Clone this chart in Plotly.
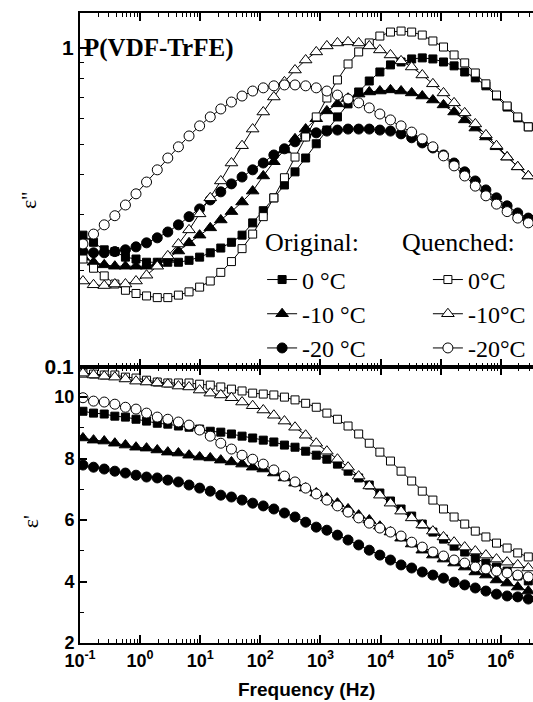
import plotly.graph_objects as go

# Measurement frequencies (Hz)
freq_hz = [0.112, 0.168, 0.253, 0.380, 0.570, 0.855, 1.28, 1.93, 2.89, 4.34,
           6.52, 9.78, 14.7, 22.0, 33.1, 49.7, 74.6, 112, 168, 252,
           378, 568, 853, 1280, 1921, 2884, 4329, 6499, 9754, 14640,
           21980, 32990, 49530, 74340, 111600, 167500, 251500, 377500, 566600, 850500,
           1277000, 1917000, 2877000]

# Dielectric loss eps'' - original samples
loss_orig_0 = [0.259, 0.246, 0.233, 0.230, 0.221, 0.218, 0.213, 0.213, 0.213, 0.213,
               0.216, 0.221, 0.228, 0.236, 0.246, 0.259, 0.283, 0.309, 0.339, 0.372,
               0.409, 0.452, 0.501, 0.553, 0.608, 0.668, 0.728, 0.788, 0.841, 0.885,
               0.904, 0.924, 0.931, 0.924, 0.904, 0.879, 0.841, 0.806, 0.761, 0.707,
               0.653, 0.604, 0.566]
loss_orig_m10 = [0.221, 0.213, 0.209, 0.207, 0.207, 0.207, 0.207, 0.211, 0.219, 0.231,
                 0.245, 0.259, 0.273, 0.289, 0.307, 0.329, 0.356, 0.397, 0.440, 0.479,
                 0.519, 0.557, 0.600, 0.635, 0.668, 0.696, 0.717, 0.728, 0.733, 0.739,
                 0.733, 0.723, 0.707, 0.687, 0.663, 0.630, 0.595, 0.561, 0.526, 0.490,
                 0.455, 0.424, 0.397]
loss_orig_m20 = [0.230, 0.228, 0.228, 0.230, 0.233, 0.238, 0.245, 0.254, 0.265, 0.279,
                 0.296, 0.313, 0.334, 0.354, 0.375, 0.394, 0.415, 0.436, 0.462, 0.483,
                 0.508, 0.530, 0.542, 0.549, 0.553, 0.557, 0.557, 0.557, 0.553, 0.549,
                 0.538, 0.523, 0.504, 0.486, 0.462, 0.436, 0.409, 0.383, 0.359, 0.339,
                 0.320, 0.304, 0.293]

# Dielectric loss eps'' - quenched samples
loss_quen_0 = [0.218, 0.204, 0.193, 0.182, 0.174, 0.170, 0.167, 0.165, 0.165, 0.168,
               0.172, 0.178, 0.186, 0.198, 0.214, 0.235, 0.261, 0.296, 0.339, 0.392,
               0.455, 0.526, 0.608, 0.697, 0.794, 0.891, 0.972, 1.037, 1.090, 1.122,
               1.130, 1.122, 1.098, 1.052, 1.007, 0.951, 0.898, 0.835, 0.772, 0.712,
               0.658, 0.608, 0.566]
loss_quen_m10 = [0.186, 0.181, 0.180, 0.182, 0.182, 0.186, 0.194, 0.207, 0.223, 0.243,
                 0.269, 0.302, 0.339, 0.383, 0.436, 0.494, 0.557, 0.630, 0.702, 0.783,
                 0.853, 0.917, 0.972, 1.015, 1.037, 1.045, 1.037, 1.015, 0.986, 0.951,
                 0.911, 0.872, 0.823, 0.772, 0.723, 0.673, 0.626, 0.578, 0.534, 0.494,
                 0.455, 0.424, 0.397]
loss_quen_m20 = [0.243, 0.261, 0.279, 0.298, 0.322, 0.349, 0.380, 0.415, 0.452, 0.490,
                 0.530, 0.570, 0.608, 0.644, 0.677, 0.707, 0.733, 0.750, 0.761, 0.766,
                 0.766, 0.761, 0.750, 0.733, 0.712, 0.692, 0.673, 0.649, 0.621, 0.595,
                 0.570, 0.545, 0.519, 0.490, 0.459, 0.427, 0.397, 0.369, 0.344, 0.324,
                 0.307, 0.293, 0.283]

# Dielectric constant eps' - original samples
perm_orig_0 = [9.54, 9.48, 9.45, 9.38, 9.35, 9.28, 9.22, 9.15, 9.12, 9.06,
               9.02, 8.96, 8.89, 8.86, 8.80, 8.73, 8.67, 8.60, 8.54, 8.44,
               8.37, 8.24, 8.11, 7.98, 7.82, 7.59, 7.37, 7.14, 6.88, 6.62,
               6.36, 6.13, 5.87, 5.61, 5.38, 5.15, 4.96, 4.76, 4.60, 4.47,
               4.34, 4.18, 4.02]
perm_orig_m10 = [8.67, 8.60, 8.57, 8.50, 8.44, 8.37, 8.34, 8.28, 8.21, 8.18,
                 8.11, 8.05, 8.02, 7.95, 7.89, 7.82, 7.72, 7.66, 7.53, 7.37,
                 7.20, 7.04, 6.88, 6.72, 6.55, 6.36, 6.16, 6.00, 5.80, 5.61,
                 5.41, 5.22, 5.02, 4.86, 4.73, 4.60, 4.47, 4.31, 4.21, 4.05,
                 3.95, 3.82, 3.69]
perm_orig_m20 = [7.79, 7.72, 7.66, 7.59, 7.53, 7.46, 7.40, 7.37, 7.30, 7.24,
                 7.14, 7.04, 6.94, 6.81, 6.75, 6.65, 6.55, 6.46, 6.36, 6.23,
                 6.10, 5.93, 5.77, 5.67, 5.51, 5.35, 5.19, 5.02, 4.86, 4.70,
                 4.54, 4.44, 4.31, 4.21, 4.11, 3.98, 3.89, 3.79, 3.69, 3.59,
                 3.53, 3.50, 3.43]

# Dielectric constant eps' - quenched samples
perm_quen_0 = [10.78, 10.75, 10.72, 10.72, 10.65, 10.62, 10.55, 10.49, 10.46, 10.46,
               10.46, 10.42, 10.39, 10.33, 10.26, 10.20, 10.13, 10.10, 10.07, 10.00,
               9.91, 9.80, 9.67, 9.48, 9.28, 9.06, 8.80, 8.50, 8.21, 7.92,
               7.59, 7.27, 6.94, 6.65, 6.36, 6.10, 5.87, 5.64, 5.45, 5.25,
               5.09, 4.93, 4.80]
perm_quen_m10 = [10.78, 10.72, 10.68, 10.65, 10.59, 10.52, 10.49, 10.46, 10.42, 10.36,
                 10.33, 10.23, 10.13, 10.07, 9.98, 9.84, 9.72, 9.58, 9.41, 9.22,
                 9.02, 8.76, 8.50, 8.24, 7.98, 7.72, 7.43, 7.11, 6.81, 6.55,
                 6.29, 6.07, 5.84, 5.64, 5.45, 5.28, 5.12, 4.99, 4.86, 4.73,
                 4.63, 4.54, 4.44]
perm_quen_m20 = [9.98, 9.87, 9.84, 9.77, 9.67, 9.61, 9.48, 9.35, 9.28, 9.19,
                 9.09, 8.93, 8.73, 8.50, 8.31, 8.11, 7.98, 7.82, 7.63, 7.43,
                 7.24, 7.04, 6.85, 6.65, 6.46, 6.26, 6.07, 5.90, 5.74, 5.61,
                 5.48, 5.28, 5.12, 4.96, 4.83, 4.70, 4.60, 4.47, 4.41, 4.34,
                 4.28, 4.21, 4.15]

x_tick_vals = [1e-1, 1e0, 1e1, 1e2, 1e3, 1e4, 1e5, 1e6]
x_tick_text = ["10<sup>-1</sup>", "10<sup>0</sup>", "10<sup>1</sup>", "10<sup>2</sup>",
               "10<sup>3</sup>", "10<sup>4</sup>", "10<sup>5</sup>", "10<sup>6</sup>"]

SANS = "Liberation Sans"
SERIF = "Liberation Serif"

# (name, symbol, size, fill, loss data, permittivity data, legend)
series = [
    ("0 °C", "square", 8, "black", loss_orig_0, perm_orig_0, "legend"),
    ("-10 °C", "triangle-up", 11, "black", loss_orig_m10, perm_orig_m10, "legend"),
    ("-20 °C", "circle", 10, "black", loss_orig_m20, perm_orig_m20, "legend"),
    ("0°C", "square", 8, "white", loss_quen_0, perm_quen_0, "legend2"),
    ("-10°C", "triangle-up", 11, "white", loss_quen_m10, perm_quen_m10, "legend2"),
    ("-20°C", "circle", 10, "white", loss_quen_m20, perm_quen_m20, "legend2"),
]

fig = go.Figure()
for name, sym, size, fill, loss, perm, leg in series:
    marker = dict(symbol=sym, size=size, color=fill, line=dict(color="black", width=1))
    fig.add_trace(go.Scatter(x=freq_hz, y=loss, name=name, mode="lines+markers",
                             line=dict(color="black", width=1), marker=marker,
                             xaxis="x", yaxis="y", legend=leg))
    fig.add_trace(go.Scatter(x=freq_hz, y=perm, name=name, mode="lines+markers",
                             line=dict(color="black", width=1), marker=marker,
                             xaxis="x2", yaxis="y2", showlegend=False))

split = 0.4381
axis_common = dict(showline=True, linewidth=2, linecolor="black", showgrid=False,
                   zeroline=False, ticks="inside", tickcolor="black", tickwidth=1.5)
x_common = dict(axis_common, type="log", range=[-1, 6.537], mirror="ticks", ticklen=8,
                tickvals=x_tick_vals, ticktext=x_tick_text,
                minor=dict(ticks="inside", ticklen=4, dtick="D1", tickcolor="black",
                           tickwidth=1, showgrid=False))

legend_common = dict(font=dict(family=SERIF, size=24, color="black"),
                     y=0.612, xanchor="left", yanchor="top",
                     bgcolor="rgba(0,0,0,0)", borderwidth=0, tracegroupgap=0)

fig.update_layout(
    width=533, height=702,
    margin=dict(l=80, r=0, t=13, b=59),
    plot_bgcolor="white", paper_bgcolor="white",
    xaxis=dict(x_common, domain=[0, 1], anchor="y", showticklabels=False),
    xaxis2=dict(x_common, domain=[0, 1], anchor="y2", matches="x",
                tickfont=dict(family=SANS, size=18, color="black", weight="bold")),
    yaxis=dict(axis_common, type="log", domain=[split, 1], range=[-1, 0.1097],
               anchor="x", tickvals=[0.1, 1], ticktext=["0.1", "1"], ticklen=7,
               tickfont=dict(family=SANS, size=21, color="black", weight="bold"),
               minor=dict(ticks="inside", ticklen=4, tickcolor="black", tickwidth=1,
                          tickvals=[0.2, 0.3, 0.4, 0.5, 0.6, 0.7, 0.8, 0.9],
                          showgrid=False)),
    yaxis2=dict(axis_common, domain=[0, split], range=[2, 10.98], anchor="x2",
                tickvals=[2, 4, 6, 8, 10], ticklen=7,
                tickfont=dict(family=SANS, size=18, color="black", weight="bold"),
                minor=dict(ticks="inside", ticklen=4, tickcolor="black", tickwidth=1,
                           tickvals=[3, 5, 7, 9], showgrid=False)),
    legend=dict(legend_common, x=0.402),
    legend2=dict(legend_common, x=0.768),
    showlegend=True,
)

# Legend headings
fig.add_annotation(text="Original:", xref="paper", yref="paper", x=0.404, y=0.635,
                   xanchor="left", yanchor="middle", showarrow=False,
                   font=dict(family=SERIF, size=26, color="black"))
fig.add_annotation(text="Quenched:", xref="paper", yref="paper", x=0.706, y=0.635,
                   xanchor="left", yanchor="middle", showarrow=False,
                   font=dict(family=SERIF, size=26, color="black"))

fig.add_annotation(text="P(VDF-TrFE)", xref="paper", yref="paper", x=0.004, y=0.944,
                   xanchor="left", yanchor="middle", showarrow=False,
                   font=dict(family=SERIF, size=25, color="black", weight="bold"))
fig.add_annotation(text="ε''", xref="paper", yref="paper", x=-0.115, y=0.703,
                   xanchor="center", yanchor="middle", showarrow=False, textangle=-90,
                   font=dict(family=SERIF, size=22, color="black"))
fig.add_annotation(text="ε'", xref="paper", yref="paper", x=-0.110, y=0.192,
                   xanchor="center", yanchor="middle", showarrow=False, textangle=-90,
                   font=dict(family=SERIF, size=22, color="black"))
fig.add_annotation(text="Frequency (Hz)", xref="paper", yref="paper", x=0.5, y=-0.0746,
                   xanchor="center", yanchor="middle", showarrow=False,
                   font=dict(family=SANS, size=19, color="black", weight="bold"))

fig.write_html("out.html")
